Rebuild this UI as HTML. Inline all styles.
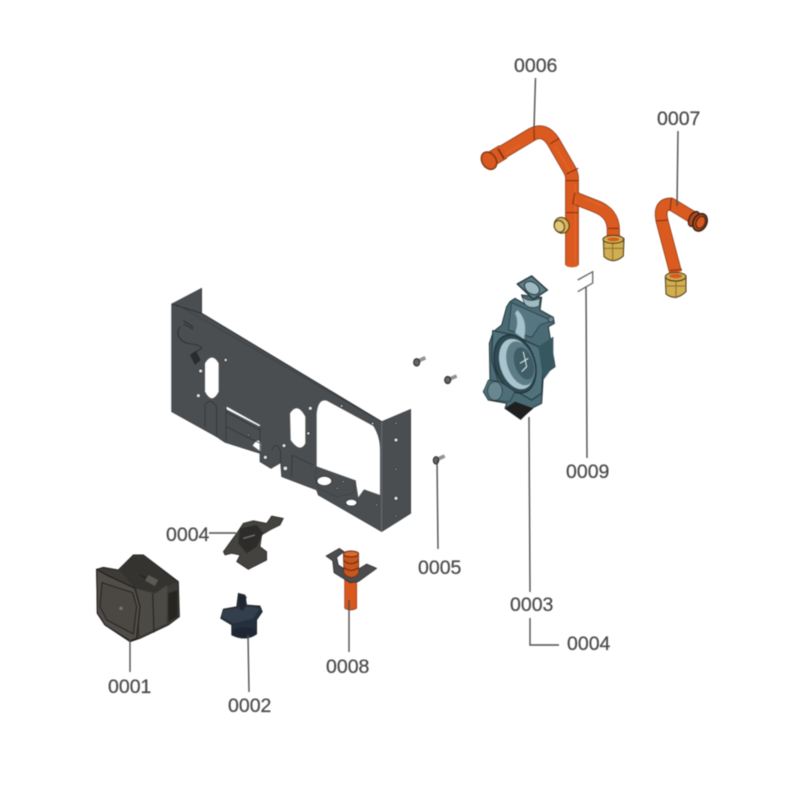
<!DOCTYPE html>
<html><head><meta charset="utf-8"><style>
html,body{margin:0;padding:0;background:#fff;width:800px;height:800px;overflow:hidden}
svg{display:block;filter:blur(.45px)}
text{font-family:"Liberation Sans",sans-serif;font-size:19.5px;fill:#4a4a4a;stroke:#4a4a4a;stroke-width:.25}
.l{stroke:#4f4f4f;stroke-width:1.4;fill:none}
</style></head><body>
<svg width="800" height="800" viewBox="0 0 800 800" xmlns="http://www.w3.org/2000/svg">
<rect width="800" height="800" fill="#fff"/>

<!-- frame -->
<g transform="translate(160 280) scale(.33333)">
<path d="M35 72L125 25V100L665 425L752 388V700L665 755L640 740L475 645L470 630L365 590L362 548L333 565L300 545V520L195 487L170 470L35 395Z" fill="#4a4e51" stroke="#34373a" stroke-width="2"/>
<path d="M35 72L125 100L665 425" fill="none" stroke="#2f3133" stroke-width="3"/>
<path d="M48 72L640 412" fill="none" stroke="#3a3d40" stroke-width="2"/>
<path d="M665 425V755" stroke="#6b6f72" stroke-width="3"/>
<path d="M135 250Q156 215 176 250V335Q156 375 135 335Z" fill="#fff"/>
<path d="M390 400Q412 365 436 410V490Q420 520 392 480Z" fill="#fff"/>
<path d="M470 400Q475 355 500 362L640 438Q660 470 660 510V645L612 628L595 652L587 602L470 560Z" fill="#fff"/>
<path d="M470 560L587 602L580 640L530 650L475 625L465 595Z" fill="#4a4e51" stroke="#2f3133"/>
<path d="M200 380L300 435V440L200 388Z" fill="#fff"/>
<path d="M278 497Q295 470 302 490V515Z" fill="#fff"/>
<ellipse cx="493" cy="603" rx="22" ry="14" fill="#fff" stroke="#222" stroke-width="2"/>
<ellipse cx="574" cy="668" rx="17" ry="10" fill="#fff" stroke="#222" stroke-width="2"/>
<path d="M198 388V480M198 395L300 450M300 438V520M198 440L300 490" fill="none" stroke="#2f3133" stroke-width="2"/>
<path d="M135 440V375Q150 350 170 380V470M396 525L395 590M396 525L460 555M335 510Q350 480 362 515V548" fill="none" stroke="#2f3133" stroke-width="2"/>
<path d="M70 122L100 142M70 132L100 148M60 140Q40 170 80 190Q125 195 125 205L100 220" fill="none" stroke="#222" stroke-width="2"/>
<path d="M90 225L108 212L122 240L105 255Z" fill="#2b2b2b"/>
<g fill="#dfe1e2" stroke="#2a2a2a" stroke-width="2">
<circle cx="197" cy="240" r="5"/><circle cx="122" cy="273" r="6"/><circle cx="115" cy="347" r="6"/><circle cx="451" cy="385" r="6"/><circle cx="445" cy="460" r="5"/><circle cx="372" cy="497" r="6"/><circle cx="545" cy="378" r="4"/><circle cx="638" cy="431" r="4"/><circle cx="708" cy="480" r="6"/><circle cx="708" cy="655" r="6"/><circle cx="708" cy="568" r="3"/><circle cx="708" cy="430" r="3"/><circle cx="708" cy="708" r="3"/><circle cx="265" cy="465" r="3"/><circle cx="316" cy="532" r="6"/><circle cx="376" cy="565" r="7"/><circle cx="550" cy="605" r="3"/><circle cx="532" cy="625" r="3"/><circle cx="650" cy="675" r="3"/>
</g>
</g>

<!-- copper pipes -->
<g transform="translate(470 50) scale(.33333)" fill="none" stroke-linecap="butt" stroke-linejoin="round">
<path d="M306 645V385Q306 372 298 358L250 275Q222 232 185 254L95 308" stroke="#7d3011" stroke-width="41"/>
<path d="M306 645V385Q306 372 298 358L250 275Q222 232 185 254L95 308" stroke="#db5a1f" stroke-width="37"/>
<path d="M316 445L375 468Q430 488 430 540V572" stroke="#7d3011" stroke-width="39"/>
<path d="M316 445L375 468Q430 488 430 540V572" stroke="#db5a1f" stroke-width="35"/>
<path d="M316 400V640M256 290L305 372M150 285L100 315M345 445L400 470" stroke="#f08a50" stroke-width="3" opacity=".35"/>
<path d="M289 392H325M289 488H325M240 282L268 265M290 372L325 355M315 428L308 462M192 236L193 270M414 535H447" stroke="#7d3011" stroke-width="3"/>
<ellipse cx="306" cy="645" rx="19" ry="7" fill="#db5a1f"/>
<path d="M100 305L62 328" stroke="#7d3011" stroke-width="46"/>
<path d="M100 305L62 328" stroke="#db5a1f" stroke-width="42"/>
<ellipse cx="57" cy="332" rx="21" ry="28" transform="rotate(-32 57 332)" fill="#d8581f" stroke="#7d3011" stroke-width="4"/>
<path d="M84 296L102 326" stroke="#7d3011" stroke-width="5"/>
<!-- small brass -->
<ellipse cx="275" cy="526" rx="22" ry="24" transform="rotate(-25 275 526)" fill="#d6b45c" stroke="#4a3a14" stroke-width="3"/>
<ellipse cx="268" cy="529" rx="15" ry="18" transform="rotate(-25 268 529)" fill="#e2c778" stroke="#4a3a14" stroke-width="3"/>
<!-- brass nut -->
<path d="M400 565L462 565L460 618Q430 645 402 620Z" fill="#d2ae52" stroke="#4a3a14" stroke-width="3"/>
<path d="M402 595H460M428 580V632" stroke="#8c6f2c" stroke-width="3"/>
<ellipse cx="430" cy="568" rx="31" ry="12" fill="#d2ae52" stroke="#4a3a14" stroke-width="3"/>
<ellipse cx="430" cy="568" rx="18" ry="6" fill="#db5a1f"/>
<!-- pipe 7 -->
<path d="M617 668L578 520Q562 462 603 462L690 515" stroke="#7d3011" stroke-width="38"/>
<path d="M617 668L578 520Q562 462 603 462L690 515" stroke="#db5a1f" stroke-width="34"/>
<path d="M558 513L594 510M604 445L600 482M600 662L636 658" stroke="#7d3011" stroke-width="3"/>
<ellipse cx="672" cy="507" rx="14" ry="24" transform="rotate(28 672 507)" fill="#b44a1a" stroke="#3c2014" stroke-width="4"/>
<ellipse cx="690" cy="517" rx="20" ry="27" transform="rotate(25 690 517)" fill="#b44a1a" stroke="#3c2014" stroke-width="5"/>
<ellipse cx="692" cy="517" rx="13" ry="19" transform="rotate(25 692 517)" fill="#d8581f" stroke="#3c2014" stroke-width="3"/>
<path d="M586 682L648 677L648 725Q617 755 588 732Z" fill="#d2ae52" stroke="#4a3a14" stroke-width="3"/>
<ellipse cx="617" cy="680" rx="31" ry="13" fill="#d2ae52" stroke="#4a3a14" stroke-width="3"/>
<ellipse cx="617" cy="678" rx="19" ry="7" fill="#db5a1f"/>
<path d="M590 708H648M618 695V745" stroke="#8c6f2c" stroke-width="3"/>
</g>

<!-- clip 0009 -->
<path d="M577.7 280L592.7 271.7V283L577.7 291.7" fill="none" stroke="#666" stroke-width="1.3"/>

<!-- casing -->
<g transform="translate(400 260) scale(.33333)">
<path d="M365 105L375 132L345 115L330 125L320 140L305 195L280 215L268 250L270 360L250 395L265 420L320 430L315 445L362 478L395 445L425 430L430 345L465 320L445 200L463 190L460 172L420 150L425 112Z" fill="#4a6a74" stroke="#23343a" stroke-width="3"/>
<path d="M352 72L395 48L442 90L400 118Z" fill="#5d7c85" stroke="#22343a" stroke-width="4"/>
<ellipse cx="396" cy="84" rx="25" ry="17" transform="rotate(35 396 84)" fill="#9db7be" stroke="#22343a" stroke-width="3"/>
<path d="M365 108Q385 130 420 115L418 138Q390 150 374 132Z" fill="#a0bac1" stroke="#22343a" stroke-width="2"/>
<path d="M335 128L455 182L420 195L395 232L325 210Z" fill="#567781" stroke="#23343a" stroke-width="2"/>
<path d="M352 150Q385 180 372 238L345 218Q358 185 345 160Z" fill="#a6c2ca"/>
<path d="M278 212L340 225L415 260L430 300L425 400L395 420L360 400L300 380L275 300Z" fill="#4f727c" stroke="#23343a" stroke-width="3"/>
<ellipse cx="345" cy="312" rx="60" ry="90" transform="rotate(-18 345 312)" fill="#2f4a52" stroke="#1f2e33" stroke-width="3"/>
<ellipse cx="350" cy="312" rx="50" ry="78" transform="rotate(-18 350 312)" fill="#a9c4cc"/>
<ellipse cx="362" cy="310" rx="40" ry="68" transform="rotate(-18 362 310)" fill="#5d7d86"/>
<ellipse cx="372" cy="310" rx="28" ry="50" transform="rotate(-18 372 310)" fill="#3f5d66"/>
<path d="M370 275L380 320L365 335M385 295L360 310" stroke="#e6eff1" stroke-width="3" fill="none"/>
<path d="M415 260L460 230V320L430 360Z" fill="#375760"/>
<path d="M250 395L265 360L300 365L345 395L330 425L265 420Z" fill="#4f6f78" stroke="#23343a" stroke-width="2"/>
<ellipse cx="285" cy="393" rx="22" ry="28" fill="#6a8790" stroke="#23343a" stroke-width="2"/>
<path d="M315 445L345 425L400 445L362 478Z" fill="#1f1f1f"/>
<circle cx="453" cy="178" r="8" fill="#6b8a93" stroke="#22343a" stroke-width="2"/>
<!-- screws -->
<path d="M55 303L76 293" stroke="#8d9496" stroke-width="11"/>
<ellipse cx="50" cy="307" rx="9" ry="11" fill="#666" stroke="#222" stroke-width="3"/>
<path d="M147 358L170 348" stroke="#8d9496" stroke-width="11"/>
<ellipse cx="143" cy="360" rx="9" ry="11" fill="#666" stroke="#222" stroke-width="3"/>
<path d="M112 598L134 588" stroke="#8d9496" stroke-width="11"/>
<ellipse cx="108" cy="601" rx="8" ry="11" fill="#666" stroke="#222" stroke-width="3"/>
</g>

<!-- motor, bracket, actuator -->
<g transform="translate(90 510) scale(.33333)">
<path d="M20 178L40 172L85 180L130 135L160 135L265 215L268 320L235 345L150 385L120 395L45 345L22 310Z" fill="#3d3b37" stroke="#1f1e1c" stroke-width="3"/>
<path d="M90 182L130 140L160 140L262 215L195 250L135 235Z" fill="#35332f"/>
<path d="M135 235L195 250L232 225L230 340L150 380Z" fill="#4c4a45"/>
<path d="M188 250L192 368M150 195L195 220" stroke="#23221f" stroke-width="3"/>
<path d="M235 250L262 240V320L235 335Z" fill="#26251f"/>
<path d="M175 195L205 210L195 228L165 212Z" fill="#5d5a53"/>
<path d="M20 178L50 195L135 235L150 290L140 385L120 392L45 345L22 310Z" fill="#504d48" stroke="#1c1b19" stroke-width="3"/>
<path d="M36 218L128 248L140 290L130 372L50 330L30 290Z" fill="#4b4843" stroke="#1c1b19" stroke-width="2.5"/>
<circle cx="93" cy="295" r="5" fill="#777"/>

<path d="M400 125L440 70L460 40L490 32L530 40L545 18L580 25L570 45L540 60L515 75L510 110L530 125V150L475 178L440 155L450 135L425 130L405 135Z" fill="#45433f" stroke="#1f1e1c" stroke-width="2"/>
<path d="M450 55L500 45L520 70L500 110L470 130L445 100Z" fill="#2e2c2a"/>
<path d="M460 85L495 75" stroke="#7a7872" stroke-width="4"/>

<path d="M445 250L465 255L470 285L510 288L517 305L500 330V372Q465 395 425 375V345L392 325L400 297L440 290Z" fill="#26303c" stroke="#151a20" stroke-width="2"/>
<path d="M400 300L480 290L510 295L490 325L430 340L395 322Z" fill="#343f4d"/>
<path d="M445 255L470 260L462 300H450Z" fill="#1f2630"/>
<ellipse cx="462" cy="368" rx="37" ry="17" fill="#1e2733"/>
</g>

<!-- 0008 -->
<g transform="translate(320 540) scale(.33333)">
<path d="M74 95H110V205Q92 215 74 205Z" fill="#d8581f" stroke="#8a3510" stroke-width="2"/>
<path d="M18 48L58 25L72 35L50 52L55 75L95 100L140 72L170 85L115 125L90 128L42 98L38 62Z" fill="#4a4c4e" stroke="#222" stroke-width="2"/>
<path d="M70 48Q92 25 116 48V100Q95 125 72 100Z" fill="#c9561f" stroke="#5f2a10" stroke-width="2"/>
<ellipse cx="93" cy="42" rx="23" ry="9" fill="#df6a2c" stroke="#5f2a10" stroke-width="3"/>
<path d="M71 62Q93 80 116 62M71 82Q93 100 116 82" stroke="#5f2a10" stroke-width="3" fill="none"/>
</g>

<!-- leader lines -->
<path class="l" d="M535.5 78L534 128"/>
<path class="l" d="M678 131L677 206"/>
<path class="l" d="M586 287L587 458"/>
<path class="l" d="M529 417L530 592"/>
<path class="l" d="M530 618V645H559"/>
<path class="l" d="M437 460L438 549"/>
<path class="l" d="M349 600V652"/>
<path class="l" d="M248 635L249 692"/>
<path class="l" d="M130 640V672"/>
<path class="l" d="M209 533H236"/>

<text x="514" y="72">0006</text>
<text x="657" y="125">0007</text>
<text x="566" y="478">0009</text>
<text x="510" y="611">0003</text>
<text x="567" y="650">0004</text>
<text x="418" y="574">0005</text>
<text x="326" y="673">0008</text>
<text x="228" y="712">0002</text>
<text x="108" y="693">0001</text>
<text x="166" y="541">0004</text>
</svg>
</body></html>
